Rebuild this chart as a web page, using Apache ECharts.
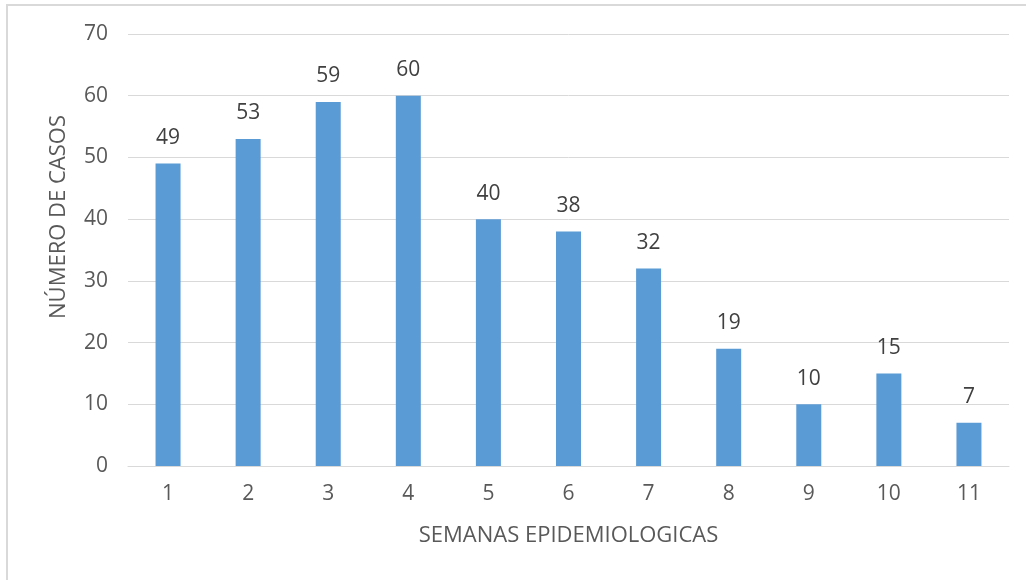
<!DOCTYPE html>
<html>
<head>
<meta charset="utf-8">
<script src="https://cdn.jsdelivr.net/npm/echarts@6/dist/echarts.min.js"></script>
<style>
  html, body { margin: 0; padding: 0; background: #fff; }
  #frame { position: absolute; left: 6px; top: 4px; width: 1020px; height: 576px; border-top: 2px solid #d9d9d9; border-left: 2px solid #d9d9d9; box-sizing: border-box; }
  #chart { position: absolute; left: 0; top: 0; width: 1026px; height: 580px; }
</style>
</head>
<body>
<div id="frame"></div>
<div id="chart"></div>
<script>
    "use strict";

    // weeks and case counts
    const weeks = ["1", "2", "3", "4", "5", "6", "7", "8", "9", "10", "11"];
    const cases = [49, 53, 59, 60, 40, 38, 32, 19, 10, 15, 7];

    const FONT = "'Open Sans', sans-serif";
    const TXT = "#595959";

    const chart = echarts.init(document.getElementById("chart"), null, { renderer: "canvas" });
    chart.setOption({
        animation: false,
        grid: { left: 128, right: 17, top: 34, bottom: 114 },
        xAxis: {
            type: "category",
            data: weeks,
            name: "SEMANAS EPIDEMIOLOGICAS",
            nameLocation: "middle",
            nameGap: 59,
            nameTextStyle: { color: TXT, fontSize: 22, fontFamily: FONT },
            axisLine: { lineStyle: { color: "#d9d9d9", width: 1 } },
            axisTick: { show: false },
            axisLabel: { color: TXT, fontSize: 21, fontFamily: FONT, margin: 18 }
        },
        yAxis: {
            type: "value",
            min: 0, max: 70, interval: 10,
            name: "NÚMERO DE CASOS",
            nameLocation: "middle",
            nameGap: 58,
            nameTextStyle: { color: TXT, fontSize: 22, fontFamily: FONT, padding: [0, 0, 0, 66] },
            axisLine: { show: false },
            axisTick: { show: false },
            axisLabel: { color: TXT, fontSize: 21, fontFamily: FONT, margin: 20 },
            splitLine: { lineStyle: { color: "#d9d9d9", width: 1 } }
        },
        series: [{
            type: "bar",
            data: cases,
            barWidth: 25,
            itemStyle: { color: "#5b9bd5" },
            label: { show: true, position: "top", distance: 15, color: "#404040", fontSize: 21, fontFamily: FONT }
        }]
    });
</script>
</body>
</html>
